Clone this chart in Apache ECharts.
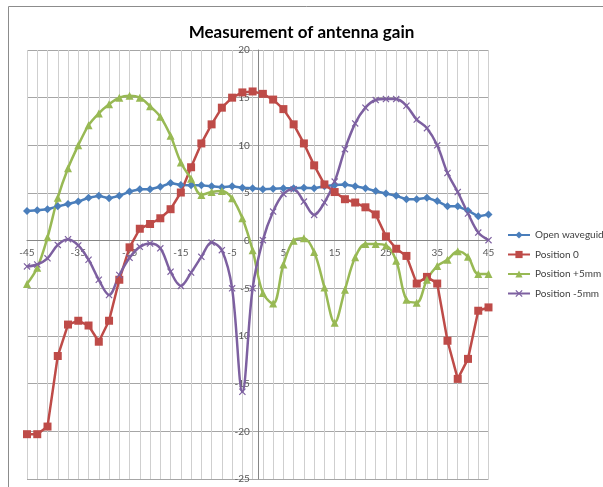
<!DOCTYPE html>
<html>
<head>
<meta charset="utf-8">
<script src="https://cdn.jsdelivr.net/npm/echarts@6/dist/echarts.min.js"></script>
<style>
html,body{margin:0;padding:0;background:#fff;}
#c{width:603px;height:487px;}
</style>
</head>
<body>
<div id="c"></div>
<script>
const angles = [-45,-43,-41,-39,-37,-35,-33,-31,-29,-27,-25,-23,-21,-19,-17,-15,-13,-11,-9,-7,-5,-3,-1,1,3,5,7,9,11,13,15,17,19,21,23,25,27,29,31,33,35,37,39,41,43,45];
const openWaveguide = [3.1,3.2,3.3,3.6,3.85,4.1,4.5,4.7,4.45,4.7,5.15,5.4,5.4,5.65,6.05,5.85,5.8,5.8,5.7,5.6,5.7,5.55,5.5,5.4,5.45,5.5,5.5,5.55,5.5,5.7,5.85,5.9,5.7,5.5,5.2,4.95,4.7,4.35,4.35,4.5,4.15,3.6,3.6,3.15,2.55,2.75];
const position0 = [-20.3,-20.3,-19.5,-12.1,-8.8,-8.4,-8.9,-10.6,-8.4,-4.1,-0.7,1.25,1.75,2.35,3.3,5.05,7.7,10.2,12.2,13.95,15.0,15.55,15.65,15.4,14.8,13.8,12.2,10.2,7.9,5.9,5.1,4.35,4.0,3.5,2.75,0.45,-0.85,-1.6,-4.5,-3.8,-4.5,-10.5,-14.5,-12.4,-7.35,-7.0];
const positionPlus5 = [-4.55,-2.85,0.35,4.5,7.6,10.0,12.1,13.35,14.3,15.0,15.2,15.0,14.1,13.0,11.0,8.2,6.5,4.8,5.1,5.2,4.45,2.35,-1.0,-5.5,-6.6,-2.5,0.0,0.25,-1.2,-4.9,-8.6,-5.15,-1.75,-0.35,-0.35,-0.5,-2.1,-6.2,-6.5,-4.1,-2.65,-2.0,-1.1,-1.7,-3.5,-3.5];
const positionMinus5 = [-2.7,-2.5,-1.85,-0.45,0.15,-0.5,-2.0,-4.1,-5.7,-3.6,-1.8,-0.65,-0.3,-0.8,-3.25,-4.75,-3.35,-1.7,-0.2,-1.0,-5.0,-15.85,-5.0,0.05,3.05,4.9,5.4,4.1,2.7,4.0,6.2,9.6,12.3,13.95,14.75,14.85,14.85,14.15,12.7,11.8,10.0,7.1,5.1,2.85,0.85,0.05];
const seriesNames = ['Open waveguide','Position 0','Position +5mm','Position -5mm'];

function pairs(vals){ return angles.map((a,i)=>[a, vals[i]]); }

const FONT = 'Lato, "Open Sans", sans-serif';
const xMark = 'path://M0,1.2 L1.2,0 L5,3.8 L8.8,0 L10,1.2 L6.2,5 L10,8.8 L8.8,10 L5,6.2 L1.2,10 L0,8.8 L3.8,5 Z';

const G = {left: 27, top: 50, width: 461.5, height: 429};
const X_MIN = -45, X_MAX = 45, Y_MIN = -25, Y_MAX = 20;
// shift axes so that they sit on the other axis's zero (as in the reference)
const yOff = -(G.width * (0 - X_MIN) / (X_MAX - X_MIN));
const xOff = -(G.height * (0 - Y_MIN) / (Y_MAX - Y_MIN));

const chart = echarts.init(document.getElementById('c'), null, {renderer:'canvas'});
chart.setOption({
  animation: false,
  backgroundColor: '#fff',
  textStyle: {fontFamily: FONT},
  graphic: [{
    type: 'rect', silent: true, z: -10,
    shape: {x: 8.5, y: 6.5, width: 700, height: 600},
    style: {fill: 'none', stroke: '#8c8c8c', lineWidth: 1}
  }],
  title: {
    text: 'Measurement of antenna gain',
    left: 'center', top: 19,
    textStyle: {fontFamily: FONT, fontSize: 17, fontWeight: 'bold', color: '#000'}
  },
  legend: {
    orient: 'vertical', left: 507, top: 230, padding: 0,
    itemWidth: 22, itemHeight: 9, itemGap: 9.5,
    textStyle: {fontFamily: FONT, fontSize: 10, color: '#404040'},
    data: seriesNames
  },
  grid: {left: G.left, top: G.top, width: G.width, height: G.height, containLabel: false},
  xAxis: {
    type: 'value', min: X_MIN, max: X_MAX, interval: 10,
    offset: xOff,
    axisLine: {onZero: false, lineStyle: {color: '#868686', width: 1}},
    axisTick: {show: false},
    axisLabel: {color: '#595959', fontSize: 10, margin: 7, fontFamily: FONT},
    splitLine: {show: true, lineStyle: {color: '#cfcfcf', width: 1}},
    minorTick: {show: false, splitNumber: 5},
    minorSplitLine: {show: true, lineStyle: {color: '#cfcfcf', width: 1}}
  },
  yAxis: {
    type: 'value', min: Y_MIN, max: Y_MAX, interval: 5,
    offset: yOff,
    axisLine: {onZero: false, lineStyle: {color: '#868686', width: 1}},
    axisTick: {show: false},
    axisLabel: {color: '#595959', fontSize: 10, margin: 8, fontFamily: FONT},
    splitLine: {show: true, lineStyle: {color: '#a6a6a6', width: 1}}
  },
  series: [
    {name: seriesNames[0], type: 'line', data: pairs(openWaveguide),
     symbol: 'diamond', symbolSize: 8, color: '#4a7ebb',
     lineStyle: {width: 2.5, color: '#4a7ebb'}, itemStyle: {color: '#4a7ebb'}},
    {name: seriesNames[1], type: 'line', data: pairs(position0),
     symbol: 'rect', symbolSize: 8, color: '#be4b48',
     lineStyle: {width: 2.5, color: '#be4b48'}, itemStyle: {color: '#be4b48'}},
    {name: seriesNames[2], type: 'line', data: pairs(positionPlus5), smooth: 0.35,
     symbol: 'triangle', symbolSize: 8, color: '#98b954',
     lineStyle: {width: 2.5, color: '#98b954'}, itemStyle: {color: '#98b954'}},
    {name: seriesNames[3], type: 'line', data: pairs(positionMinus5), smooth: 0.35,
     symbol: xMark, symbolSize: 7, color: '#7d60a0',
     lineStyle: {width: 2.5, color: '#7d60a0'}, itemStyle: {color: '#7d60a0'}}
  ]
});
</script>
</body>
</html>
